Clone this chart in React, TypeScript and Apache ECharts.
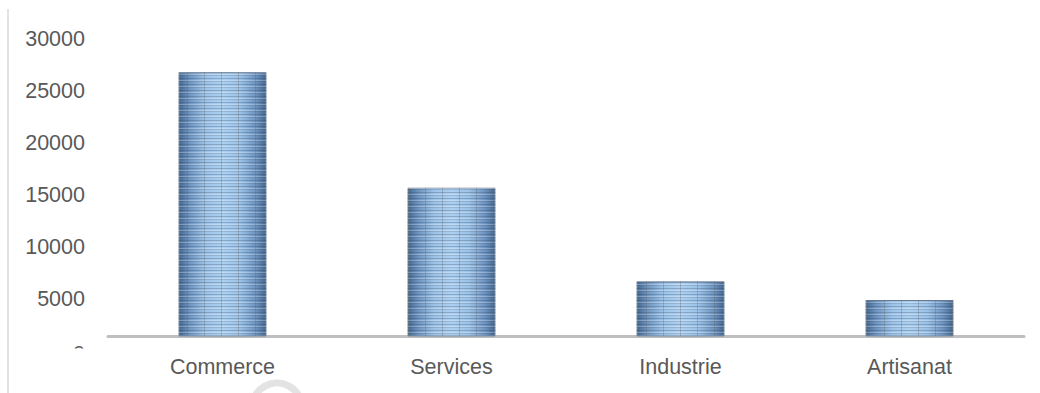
import React, { useEffect, useRef } from "react";
import * as echarts from "echarts";

const categories = ["Commerce", "Services", "Industrie", "Artisanat"];
const values = [26800, 15700, 6700, 4900];
const yTicks = [5000, 10000, 15000, 20000, 25000, 30000];
const hiddenZeroLabel = "0";

function makePattern(): HTMLCanvasElement {
  const c = document.createElement("canvas");
  c.width = 17;
  c.height = 6;
  const ctx = c.getContext("2d")!;
  ctx.clearRect(0, 0, 17, 6);
  ctx.fillStyle = "rgba(40,70,110,0.28)";
  ctx.fillRect(0, 0, 17, 1);
  ctx.fillStyle = "rgba(255,255,255,0.25)";
  ctx.fillRect(0, 2, 17, 1);
  ctx.fillStyle = "rgba(40,70,110,0.18)";
  ctx.fillRect(0, 3, 17, 1);
  ctx.fillStyle = "rgba(110,110,110,0.35)";
  ctx.fillRect(0, 0, 1, 6);
  return c;
}

export default function App() {
  const ref = useRef<HTMLDivElement>(null);
  useEffect(() => {
    document.body.style.margin = "0";
    if (!ref.current) return;
    const chart = echarts.init(ref.current, null, { renderer: "svg" });
    const font = "'Liberation Sans', Arial, sans-serif";
    const pattern = makePattern();
    chart.setOption({
      animation: false,
      backgroundColor: "#ffffff",
      grid: { left: 108, right: 16, top: 39, bottom: 57 },
      xAxis: {
        type: "category",
        data: categories,
        axisLine: { show: true, lineStyle: { color: "#bfbfbf", width: 3 } },
        axisTick: { show: false },
        axisLabel: {
          color: "#595959",
          fontSize: 21.5,
          fontFamily: font,
          margin: 20,
        },
      },
      yAxis: {
        type: "value",
        min: 1442,
        max: 30000,
        splitLine: { show: false },
        axisLine: { show: false },
        axisTick: { show: false },
        axisLabel: {
          customValues: yTicks,
          formatter: (v: number) => String(v),
          color: "#595959",
          fontSize: 21.5,
          fontFamily: font,
          margin: 23,
        },
      },
      series: [
        {
          type: "bar",
          data: values,
          barWidth: 88,
          z: 2,
          itemStyle: {
            color: new echarts.graphic.LinearGradient(0, 0, 1, 0, [
              { offset: 0, color: "#46688f" },
              { offset: 0.12, color: "#6f95c0" },
              { offset: 0.3, color: "#9cc2e6" },
              { offset: 0.5, color: "#aed0ef" },
              { offset: 0.7, color: "#9cc2e6" },
              { offset: 0.88, color: "#6f95c0" },
              { offset: 1, color: "#46688f" },
            ]),
            borderColor: "#7d8da0",
            borderWidth: 1,
          },
        },
        {
          type: "bar",
          data: values,
          barWidth: 88,
          barGap: "-100%",
          z: 3,
          silent: true,
          itemStyle: {
            color: { image: pattern, repeat: "repeat" } as any,
          },
        },
      ],
      graphic: [
        {
          type: "line",
          shape: { x1: 8, y1: 9, x2: 8, y2: 393 },
          style: { stroke: "#d9d9d9", lineWidth: 1.5 },
          silent: true,
        },
        {
          type: "text",
          x: 85,
          y: 354,
          style: {
            text: hiddenZeroLabel,
            align: "right",
            verticalAlign: "middle",
            fill: "#595959",
            fontSize: 21.5,
            fontFamily: font,
          },
          z: 10,
        },
        {
          type: "rect",
          shape: { x: 60, y: 348.5, width: 40, height: 44 },
          style: { fill: "#ffffff" },
          z: 11,
        },
        {
          type: "circle",
          shape: { cx: 277, cy: 408, r: 25 },
          style: { fill: "none", stroke: "#e3e3e3", lineWidth: 7 },
          z: 0,
          silent: true,
        },
      ],
    });
    return () => chart.dispose();
  }, []);
  return <div ref={ref} style={{ width: 1040, height: 393 }} />;
}
